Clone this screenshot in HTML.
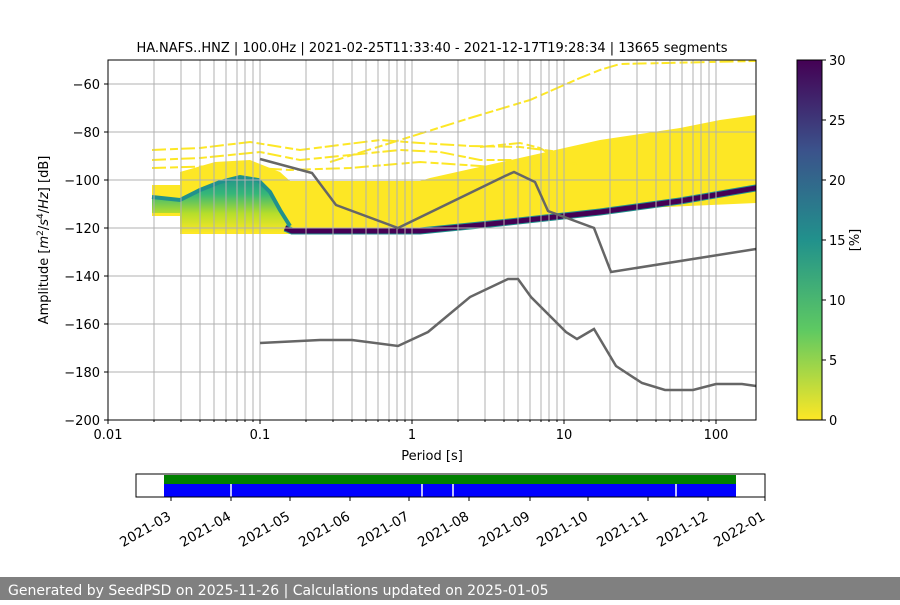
<!DOCTYPE html>
<html><head><meta charset="utf-8"><style>
body{margin:0;background:#fff;width:900px;height:600px;overflow:hidden;font-family:"Liberation Sans","DejaVu Sans",sans-serif}
</style></head><body>
<svg width="900" height="600" xmlns="http://www.w3.org/2000/svg" font-family="DejaVu Sans, Liberation Sans, sans-serif" font-size="13">
<defs>
<linearGradient id="vir" x1="0" y1="1" x2="0" y2="0">
<stop offset="0" stop-color="#fde725"/><stop offset="0.25" stop-color="#5ec962"/><stop offset="0.5" stop-color="#21918c"/><stop offset="0.75" stop-color="#3b528b"/><stop offset="1" stop-color="#440154"/>
</linearGradient>
<linearGradient id="hump" x1="0" y1="0" x2="0" y2="1">
<stop offset="0" stop-color="#21918c"/><stop offset="0.3" stop-color="#35b779"/><stop offset="0.65" stop-color="#b5de2b"/><stop offset="1" stop-color="#fde725"/>
</linearGradient>
<clipPath id="pa"><rect x="108" y="60" width="648" height="360"/></clipPath>
</defs>
<text x="432" y="52" text-anchor="middle" font-size="13">HA.NAFS..HNZ | 100.0Hz | 2021-02-25T11:33:40 - 2021-12-17T19:28:34 | 13665 segments</text>
<g clip-path="url(#pa)">
<polygon fill="#fde725" points="152,185 180,185 180,172 215,162 250,160 280,172 290,181 420,181 430,178 600,140 680,128 720,120 756,115 756,203 600,210 420,232 400,234 180,234 180,216 152,216"/>
<g stroke="#fde725" stroke-width="2" fill="none" stroke-dasharray="14 4 8 3">
<polyline points="152,150 200,148 250,142 300,150 340,145 380,140 420,143 470,146 520,147 560,152"/>
<polyline points="152,160 200,158 260,152 300,160 340,156 400,150 440,152 480,160 520,160 560,170 600,170"/>
<polyline points="152,168 220,166 290,170 350,168 420,162 480,166 540,172"/>
<polyline points="330,162 400,140 470,118 530,100 580,78 600,70 620,64 756,61"/>
<polyline points="480,147 520,143 540,148 560,160 580,165"/>
</g>
<path d="M152,197 L180,200 L200,190 L220,182 L240,177 L258,180 L270,192 L280,210 L290,226 L300,232 L280,233 L255,233 L235,230 L210,232 L180,232 L180,213 L152,213 Z" fill="url(#hump)"/>
<polyline points="152,197 180,200 200,190 220,182 240,177 258,180 270,192 280,210 290,226" stroke="#21918c" stroke-width="4" fill="none"/>
<polyline points="285,228 292,231 420,231 500,223 600,212 680,201 756,188" stroke="#21918c" stroke-width="7" fill="none"/>
<polyline points="285,228 292,231 420,231 500,223 600,212 680,201 756,188" stroke="#440154" stroke-width="5" fill="none"/>
</g>
<g stroke="#b0b0b0" stroke-width="1">
<path d="M154,60V420M181,60V420M200,60V420M214,60V420M226,60V420M237,60V420M245,60V420M253,60V420M260,60V420M306,60V420M333,60V420M352,60V420M366,60V420M378,60V420M389,60V420M397,60V420M405,60V420M412,60V420M458,60V420M485,60V420M504,60V420M518,60V420M530,60V420M541,60V420M549,60V420M557,60V420M564,60V420M610,60V420M637,60V420M656,60V420M670,60V420M682,60V420M693,60V420M701,60V420M709,60V420M716,60V420"/>
<path d="M108,84H756M108,132H756M108,180H756M108,228H756M108,276H756M108,324H756M108,372H756"/>
</g>
<g stroke="#666" stroke-width="2.5" fill="none">
<polyline points="260,159 312,173 336,205 398,228 505,176 514,172 535,182 548,211 594,228 611,272 756,249"/>
<polyline points="260,343 320,340 352,340 398,346 428,332 470,297 508,279 518,279 531,297 566,332 577,339 594,329 616,366 642,383 665,390 693,390 716,384 742,384 756,386"/>
</g>
<rect x="108" y="60" width="648" height="360" fill="none" stroke="#000" stroke-width="1"/>
<g stroke="#000"><path d="M104,84H108M104,132H108M104,180H108M104,228H108M104,276H108M104,324H108M104,372H108M104,420H108"/>
<path d="M108,420V424M260,420V424M412,420V424M564,420V424M716,420V424"/>
<path d="M154,420V422M181,420V422M200,420V422M214,420V422M226,420V422M237,420V422M245,420V422M253,420V422M306,420V422M333,420V422M352,420V422M366,420V422M378,420V422M389,420V422M397,420V422M405,420V422M458,420V422M485,420V422M504,420V422M518,420V422M530,420V422M541,420V422M549,420V422M557,420V422M610,420V422M637,420V422M656,420V422M670,420V422M682,420V422M693,420V422M701,420V422M709,420V422"/></g>
<g text-anchor="end" font-size="13">
<text x="100" y="89">−60</text><text x="100" y="137">−80</text><text x="100" y="185">−100</text><text x="100" y="233">−120</text><text x="100" y="281">−140</text><text x="100" y="329">−160</text><text x="100" y="377">−180</text><text x="100" y="425">−200</text>
</g>
<g text-anchor="middle" font-size="13">
<text x="108" y="439">0.01</text><text x="260" y="439">0.1</text><text x="412" y="439">1</text><text x="564" y="439">10</text><text x="716" y="439">100</text>
<text x="432" y="460">Period [s]</text>
</g>
<text transform="translate(48,240) rotate(-90)" text-anchor="middle" font-size="13">Amplitude [<tspan font-style="italic">m</tspan><tspan font-size="9" dy="-5">2</tspan><tspan dy="5">/</tspan><tspan font-style="italic">s</tspan><tspan font-size="9" dy="-5">4</tspan><tspan dy="5">/</tspan><tspan font-style="italic">Hz</tspan>] [dB]</text>
<rect x="797" y="60" width="25" height="360" fill="url(#vir)" stroke="#000" stroke-width="1"/>
<g stroke="#000"><path d="M822,60h4M822,120h4M822,180h4M822,240h4M822,300h4M822,360h4M822,420h4"/></g>
<g font-size="13"><text x="829" y="65">30</text><text x="829" y="125">25</text><text x="829" y="185">20</text><text x="829" y="245">15</text><text x="829" y="305">10</text><text x="829" y="365">5</text><text x="829" y="425">0</text></g>
<text transform="translate(859,240) rotate(-90)" text-anchor="middle" font-size="13">[%]</text>
<rect x="164" y="475" width="572" height="9" fill="#008000"/>
<rect x="164" y="484" width="572" height="13" fill="#0000ff"/>
<g stroke="#fff" stroke-width="1.5"><path d="M231,484V497M422,484V497M453,484V497M676,484V497"/></g>
<rect x="136" y="474" width="629" height="23" fill="none" stroke="#000"/>
<g stroke="#000"><path d="M171,497v4M231,497v4M290,497v4M350,497v4M409,497v4M469,497v4M530,497v4M588,497v4M648,497v4M708,497v4M765,497v4"/></g>
<g font-size="13.5" text-anchor="end">
<text transform="translate(172,519) rotate(-30)">2021-03</text>
<text transform="translate(232,519) rotate(-30)">2021-04</text>
<text transform="translate(291,519) rotate(-30)">2021-05</text>
<text transform="translate(351,519) rotate(-30)">2021-06</text>
<text transform="translate(410,519) rotate(-30)">2021-07</text>
<text transform="translate(470,519) rotate(-30)">2021-08</text>
<text transform="translate(531,519) rotate(-30)">2021-09</text>
<text transform="translate(589,519) rotate(-30)">2021-10</text>
<text transform="translate(649,519) rotate(-30)">2021-11</text>
<text transform="translate(709,519) rotate(-30)">2021-12</text>
<text transform="translate(766,519) rotate(-30)">2022-01</text>
</g>
<rect x="0" y="577" width="900" height="23" fill="#808080"/>
<text x="8" y="595" fill="#fff" font-size="14">Generated by SeedPSD on 2025-11-26 | Calculations updated on 2025-01-05</text>
</svg>
</body></html>
